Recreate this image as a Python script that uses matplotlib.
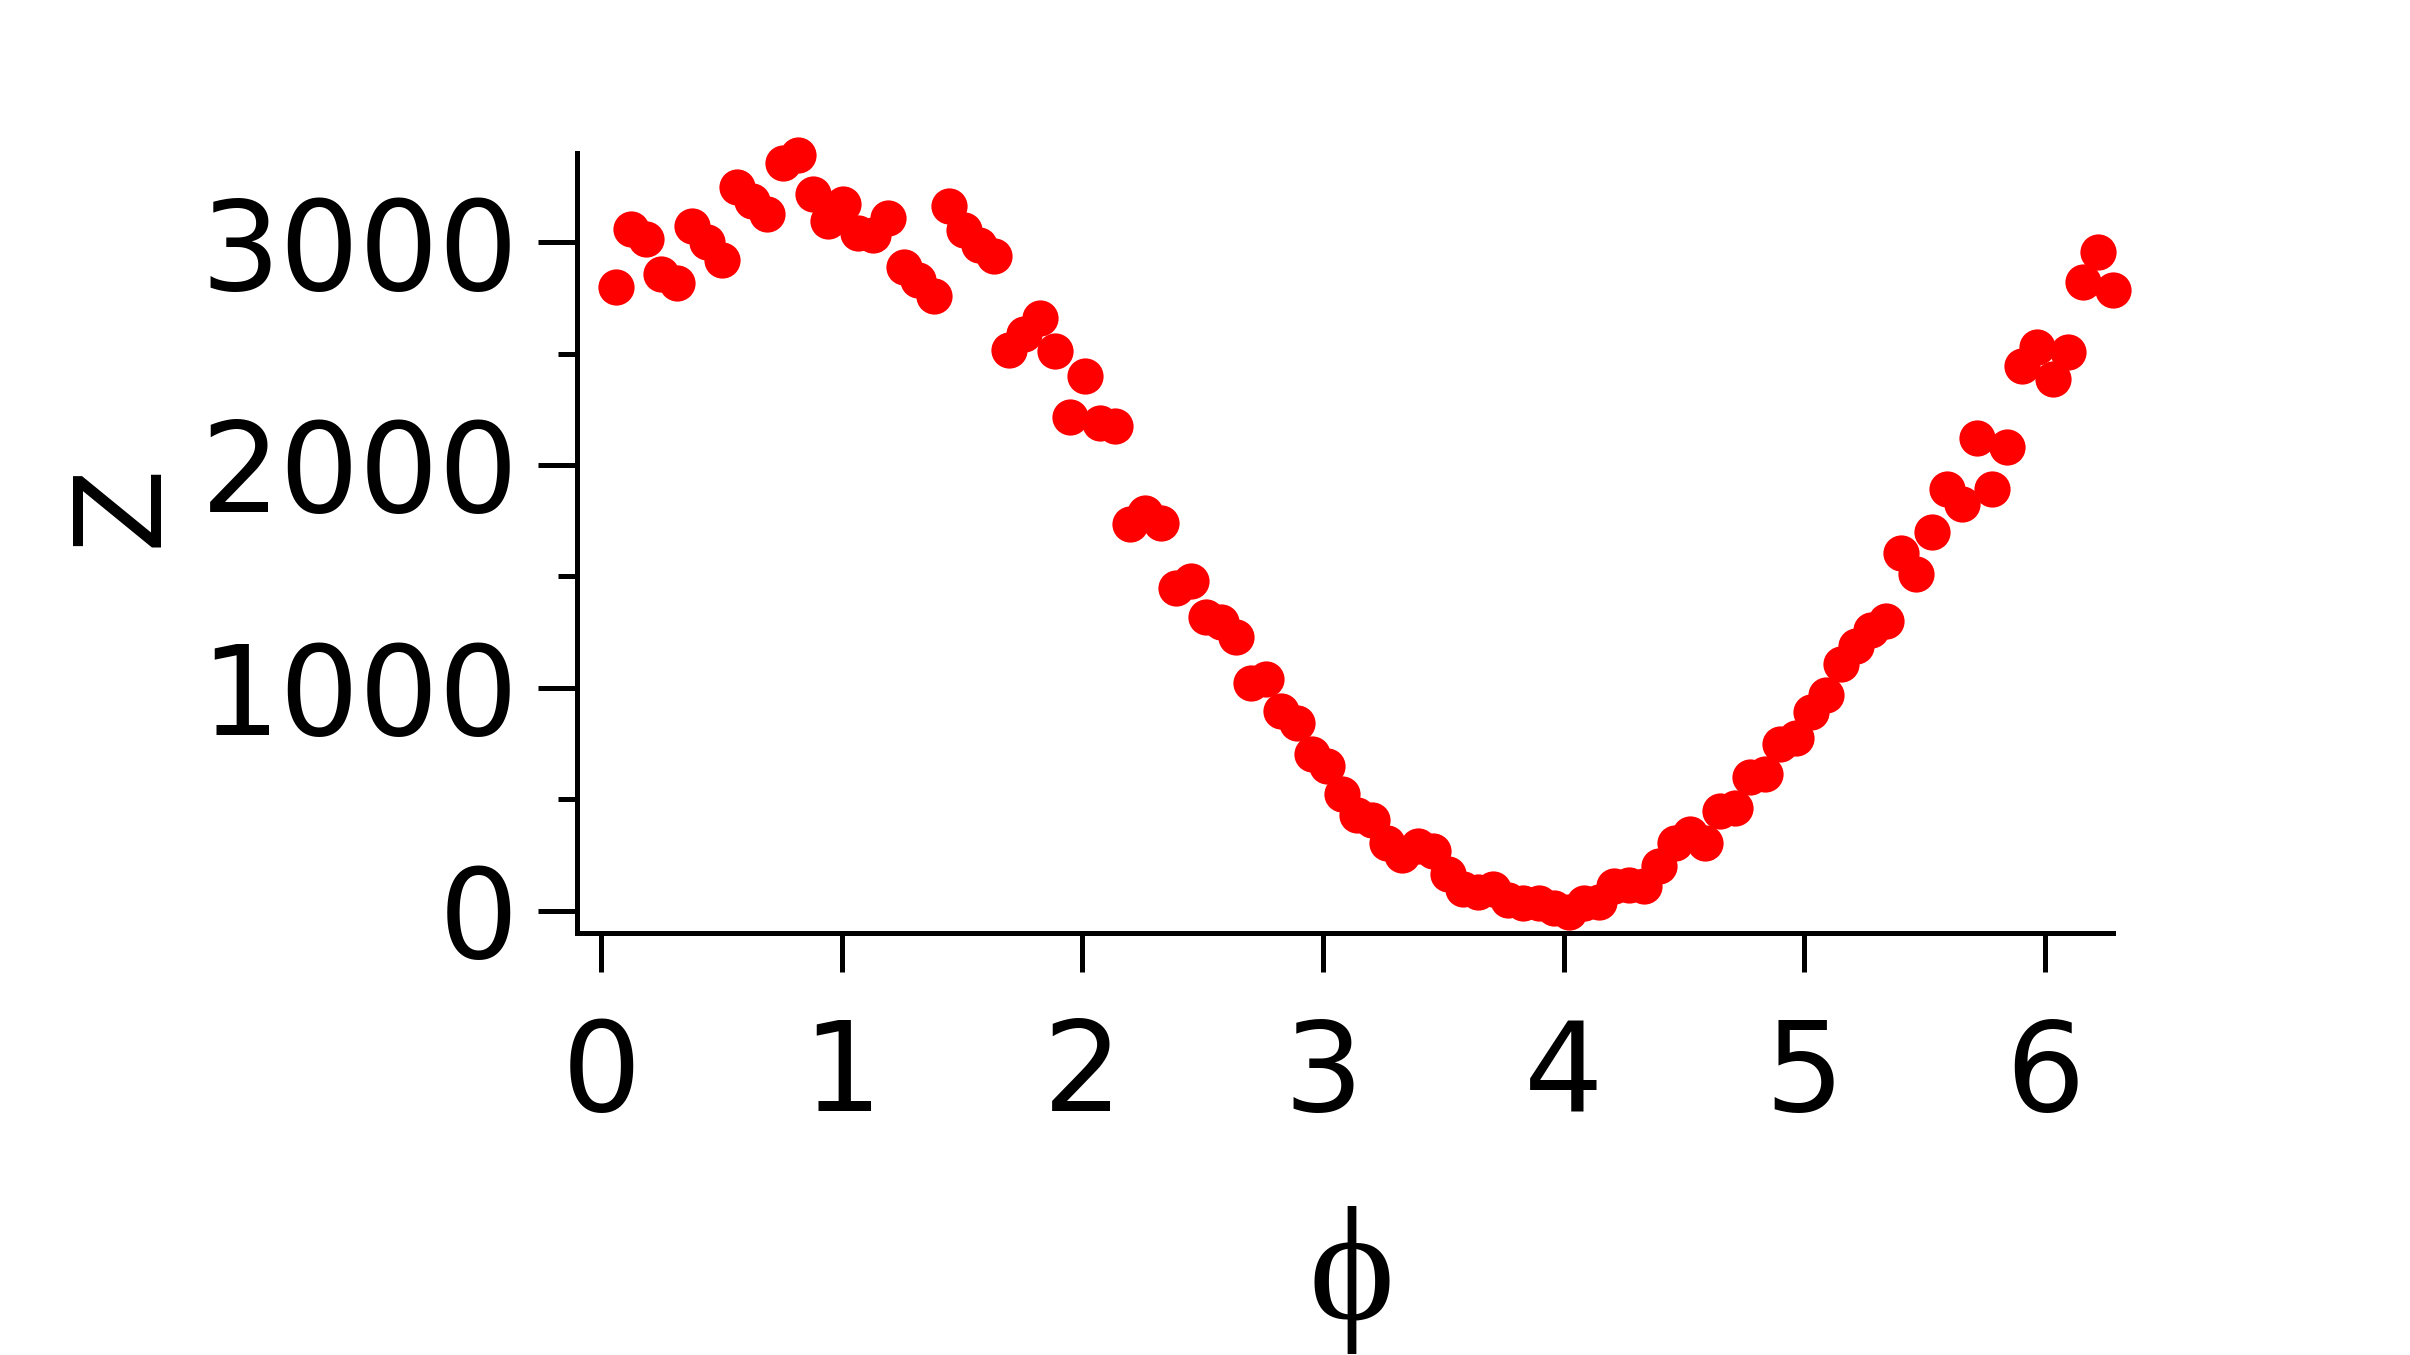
import matplotlib
matplotlib.use("Agg")
import matplotlib.pyplot as plt
from matplotlib.ticker import MultipleLocator

phi = [0.063, 0.126, 0.188, 0.251, 0.314, 0.377, 0.440, 0.503, 0.565, 0.628,
       0.691, 0.754, 0.817, 0.880, 0.942, 1.005, 1.068, 1.131, 1.194, 1.257,
       1.319, 1.382, 1.445, 1.508, 1.571, 1.634, 1.696, 1.759, 1.822, 1.885,
       1.948, 2.011, 2.073, 2.136, 2.199, 2.262, 2.325, 2.388, 2.450, 2.513,
       2.576, 2.639, 2.702, 2.765, 2.827, 2.890, 2.953, 3.016, 3.079, 3.142,
       3.204, 3.267, 3.330, 3.393, 3.456, 3.519, 3.581, 3.644, 3.707, 3.770,
       3.833, 3.896, 3.958, 4.021, 4.084, 4.147, 4.210, 4.273, 4.335, 4.398,
       4.461, 4.524, 4.587, 4.650, 4.712, 4.775, 4.838, 4.901, 4.964, 5.027,
       5.089, 5.152, 5.215, 5.278, 5.341, 5.404, 5.466, 5.529, 5.592, 5.655,
       5.718, 5.781, 5.843, 5.906, 5.969, 6.032, 6.095, 6.158, 6.220, 6.283]

counts = [2798, 3057, 3012, 2855, 2817, 3072, 3001, 2922, 3248, 3184,
          3128, 3356, 3389, 3217, 3094, 3169, 3042, 3034, 3109, 2889,
          2828, 2758, 3161, 3056, 2989, 2937, 2518, 2586, 2661, 2511,
          2215, 2399, 2189, 2175, 1734, 1786, 1741, 1446, 1480, 1318,
          1297, 1229, 1024, 1039, 898, 843, 705, 650, 525, 428,
          408, 304, 249, 290, 270, 166, 97, 83, 97, 48,
          35, 35, 14, -7, 35, 41, 110, 117, 110, 200,
          304, 345, 304, 449, 463, 601, 615, 746, 774, 891,
          967, 1106, 1189, 1258, 1299, 1603, 1510, 1700, 1894, 1824,
          2122, 1894, 2080, 2446, 2529, 2384, 2509, 2820, 2958, 2785]

x_ticks = [0, 1, 2, 3, 4, 5, 6]
y_ticks = [0, 1000, 2000, 3000]

W, H = 2410, 1355
fig = plt.figure(figsize=(W / 100, H / 100), dpi=100)
ax = fig.add_axes([577 / W, 1 - 933 / H, (2113 - 577) / W, (933 - 153) / H])

ax.scatter(phi, counts, s=680, c="#ff0000", marker="o", linewidths=0,
           antialiased=False, zorder=3, clip_on=False)

ax.set_xlim(-0.1, 6.283)
ax.set_ylim(-100, 3400)
ax.set_xticks(x_ticks)
ax.set_yticks(y_ticks)
ax.yaxis.set_minor_locator(MultipleLocator(500))

for s in ["top", "right"]:
    ax.spines[s].set_visible(False)
for s in ["left", "bottom"]:
    ax.spines[s].set_linewidth(3.6)

ax.tick_params(axis="both", which="major", length=28, width=3.6,
               labelsize=90, direction="out")
ax.tick_params(axis="y", which="major", pad=14)
ax.tick_params(axis="x", which="major", pad=32)
ax.tick_params(axis="y", which="minor", length=14, width=3.6)

fig.text(123 / W, 1 - 505 / H, "Z", rotation=90, fontsize=88,
         ha="center", va="center")
fig.text(1352 / W, 1 - 1205 / H, "ϕ", fontsize=118,
         family=["Liberation Serif", "DejaVu Serif"], ha="center", va="top")

fig.savefig("out.png", dpi=100, facecolor="white")
